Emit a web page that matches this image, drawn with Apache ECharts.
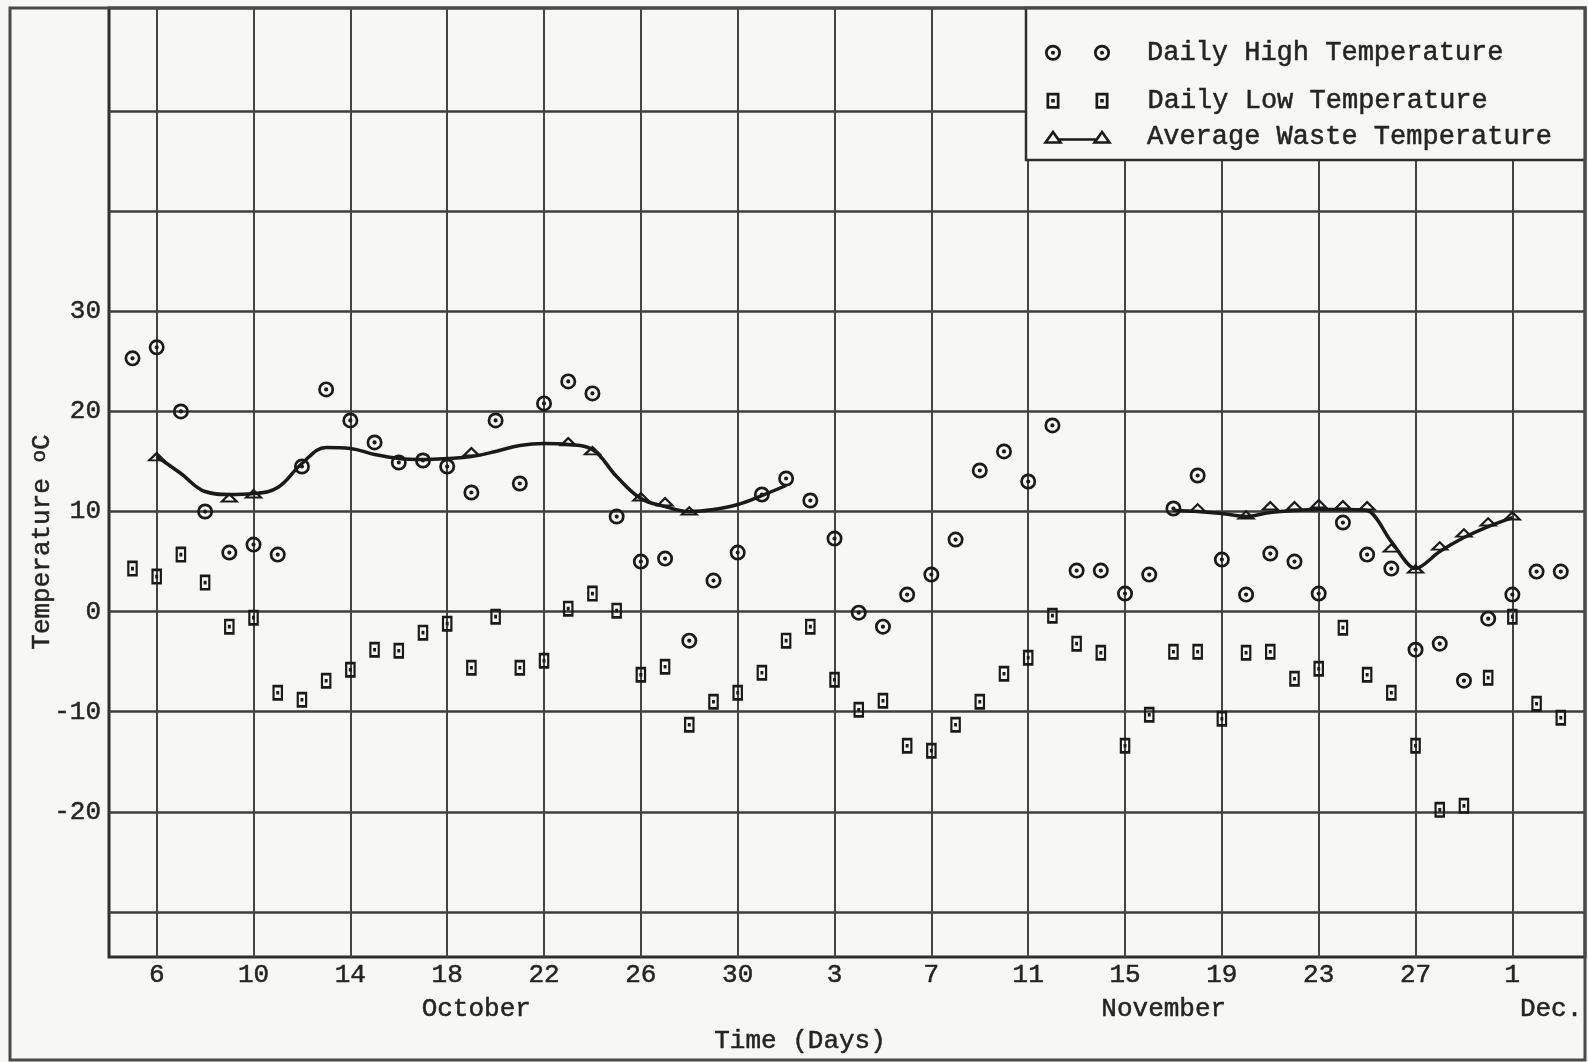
<!DOCTYPE html>
<html>
<head>
<meta charset="utf-8">
<script src="https://cdn.jsdelivr.net/npm/echarts@6/dist/echarts.min.js"></script>
<style>
html,body{margin:0;padding:0;background:#f7f7f5;}
#chart{width:1588px;height:1062px;}
</style>
</head>
<body>
<div id="chart"></div>
<script>
// ---------------- data (day index counted from Oct 1 = 1; Nov 1 = 32; Dec 1 = 62) ----------------
const obsDays = [5,6,7,8,9,10,11,12,13,14,15,16,17,18,19,20,21,22,23,24,25,26,27,28,29,30,31,32,33,34,
                 35,36,37,38,39,40,41,42,43,44,45,46,47,48,49,50,51,52,53,54,55,56,57,58,59,60,61,62,63,64];
const highTemps = [25.3,26.4,20.0,10.0,5.9,6.7,5.7,14.5,22.2,19.1,
                   16.9,14.9,15.1,14.5,11.9,19.1,12.8,20.8,23.0,21.8,
                   9.5,5.0,5.3,-2.9,3.1,5.9,11.7,13.3,11.1,7.3,
                   -0.1,-1.5,1.7,3.7,7.2,14.1,16.0,13.0,18.6,4.1,
                   4.1,1.8,3.7,10.3,13.6,5.2,1.7,5.8,5.0,1.8,
                   8.9,5.7,4.3,-3.8,-3.2,-6.9,-0.7,1.7,4.0,4.0];
const lowTemps = [4.3,3.5,5.7,2.9,-1.5,-0.6,-8.1,-8.8,-6.9,-5.8,
                  -3.8,-3.9,-2.1,-1.2,-5.6,-0.5,-5.6,-4.9,0.3,1.8,
                  0.1,-6.3,-5.5,-11.3,-9.0,-8.1,-6.1,-2.9,-1.5,-6.8,
                  -9.8,-8.9,-13.4,-13.9,-11.3,-9.0,-6.2,-4.6,-0.4,-3.2,
                  -4.1,-13.4,-10.3,-4.0,-4.0,-10.7,-4.1,-4.0,-6.7,-5.7,
                  -1.6,-6.3,-8.1,-13.4,-19.8,-19.4,-6.6,-0.5,-9.2,-10.6];

// average waste temperature: drawn curve, two segments
const wasteCurve1Days = [6,7,8,9,10,11,12,13,14,15,16,17,18,19,20,21,22,23,24,25,26,27,28,29,30,31,32];
const wasteCurve1Temps = [15.5,13.8,12.0,11.7,11.8,12.4,14.8,16.4,16.3,15.7,15.3,15.2,15.3,15.5,16.0,16.6,16.8,16.7,16.2,13.5,11.3,10.5,10.0,10.2,10.7,11.6,12.6];
const wasteCurve2Days = [48,49,50,51,52,53,54,55,56,57,58,59,60,61,62];
const wasteCurve2Temps = [10.1,10.0,9.8,9.5,9.9,10.1,10.2,10.2,10.1,7.0,4.3,6.0,7.4,8.5,9.4];
// plotted triangle readings
const wasteMarkDays = [6,9,10,19,23,24,26,27,28,49,51,52,53,54,55,56,57,58,59,60,61,62];
const wasteMarkTemps = [15.5,11.4,11.8,16.0,17.0,16.1,11.5,11.0,10.1,10.4,9.7,10.6,10.6,10.8,10.7,10.6,6.4,4.3,6.6,7.9,9.0,9.6];

// axes
const dayTicks = [6,10,14,18,22,26,30,34,38,42,46,50,54,58,62];
const dayTickLabels = ['6','10','14','18','22','26','30','3','7','11','15','19','23','27','1'];
const tempGridValues = [-30,-20,-10,0,10,20,30,40,50];
const tempTickLabels = [-20,-10,0,10,20,30];
const monthNames = ['October','November','Dec.'];
const monthLabelDays = [19.2,47.6,63.6];

const seriesNames = ['Daily High Temperature','Daily Low Temperature','Average Waste Temperature'];

// ---------------- symbols ----------------
function ring(cx, cy, ro, ri, rd) {
  const c = (r, s) => `M${cx} ${cy-r}A${r} ${r} 0 1 ${s} ${cx} ${cy+r}A${r} ${r} 0 1 ${s} ${cx} ${cy-r}Z`;
  return c(ro,1) + c(ri,0) + c(rd,1);
}
function boxDot(x, y, w, h, t, d) {
  const cx = x + w/2, cy = y + h/2;
  return `M${x} ${y}H${x+w}V${y+h}H${x}Z` +
         `M${x+t} ${y+t}V${y+h-t}H${x+w-t}V${y+t}Z` +
         `M${cx-d} ${cy-d}H${cx+d}V${cy+d}H${cx-d}Z`;
}
function tri(x0, w, h, t) {
  const sinA = Math.sin(Math.atan((w/2)/h));
  const ay = t / sinA;
  const h2 = h - t - ay;
  const w2 = w * h2 / h;
  const cx = x0 + w/2;
  return `M${x0} ${h}L${cx} 0L${x0+w} ${h}Z` +
         `M${cx-w2/2} ${h-t}L${cx+w2/2} ${h-t}L${cx} ${ay}Z`;
}
const highSymbol = 'path://' + ring(8,8,8,5.3,2.1);
const lowSymbol = 'path://' + boxDot(0,0,13,16,2.7,1.8);
const wasteSymbol = 'path://' + tri(0,20,14,2.6);
const highIcon = 'path://' + ring(8,8,8,5.3,2.1) + ring(57,8,8,5.3,2.1);
const lowIcon = 'path://' + boxDot(0,0,13,16,2.7,1.8) + boxDot(49,0,13,16,2.7,1.8);
const wasteIcon = 'path://' + tri(0,20,14,2.6) + 'M15 8.5H54V11H15Z' + tri(49,20,14,2.6);

const INK = '#1a1a1a';
const TEXT = '#242424';
const FONT = 'Liberation Mono';
const BG = '#f7f7f5';

const zip = (a, b) => a.map((v, i) => [v, b[i]]);

const chart = echarts.init(document.getElementById('chart'), null, {renderer: 'canvas'});

const baseText = {fontFamily: FONT, fontSize: 27, color: TEXT, textBorderColor: TEXT, textBorderWidth: 0.5};
const legendBase = {orient: 'horizontal', padding: 0, selectedMode: false, z: 100, itemStyle: {borderWidth: 0}};

const option = {
  backgroundColor: BG,
  animation: false,
  grid: {left: 109, right: 3, top: 8, bottom: 105, show: true, borderColor: '#2e2e2e', borderWidth: 3, backgroundColor: 'transparent'},
  xAxis: {
    type: 'value', min: 4.03, max: 65.0,
    axisLine: {show: false},
    axisTick: {show: false, customValues: dayTicks},
    splitLine: {show: true, lineStyle: {color: '#444', width: 2}},
    axisLabel: Object.assign({customValues: dayTicks, margin: 5,
      formatter: v => dayTickLabels[dayTicks.indexOf(Math.round(v))]}, baseText, {fontSize: 26})
  },
  yAxis: {
    type: 'value', min: -34.5, max: 60.3,
    axisLine: {show: false},
    axisTick: {show: false, customValues: tempGridValues},
    splitLine: {show: true, lineStyle: {color: '#3e3e3e', width: 2.5}},
    axisLabel: Object.assign({customValues: tempTickLabels, margin: 8}, baseText, {fontSize: 26})
  },
  legend: [
    Object.assign({}, legendBase, {left: 1045, top: 39, itemWidth: 65, itemHeight: 16,
      data: [{name: seriesNames[0], icon: highIcon}], textStyle: Object.assign({}, baseText, {padding: [0,0,0,32]})}),
    Object.assign({}, legendBase, {left: 1046.5, top: 87, itemWidth: 62, itemHeight: 16,
      data: [{name: seriesNames[1], icon: lowIcon}], textStyle: Object.assign({}, baseText, {padding: [0,0,0,34]})}),
    Object.assign({}, legendBase, {left: 1043, top: 123, itemWidth: 69, itemHeight: 14,
      data: [{name: seriesNames[2], icon: wasteIcon}], textStyle: Object.assign({}, baseText, {padding: [0,0,0,30]})})
  ],
  series: [
    {name: seriesNames[2], type: 'line', data: zip(wasteCurve1Days, wasteCurve1Temps), smooth: 0.4, showSymbol: false,
     lineStyle: {color: INK, width: 3.5}, itemStyle: {color: INK, borderWidth: 0}, z: 3, silent: true},
    {name: seriesNames[2], type: 'line', data: zip(wasteCurve2Days, wasteCurve2Temps), smooth: 0.3, showSymbol: false,
     lineStyle: {color: INK, width: 3.5}, itemStyle: {color: INK, borderWidth: 0}, z: 3, silent: true},
    {name: seriesNames[2], type: 'scatter', data: zip(wasteMarkDays, wasteMarkTemps), symbol: wasteSymbol, symbolSize: [20, 14],
     symbolKeepAspect: true, itemStyle: {color: INK, opacity: 1, borderWidth: 0}, z: 4, silent: true},
    {name: seriesNames[0], type: 'scatter', data: zip(obsDays, highTemps), symbol: highSymbol, symbolSize: 16,
     symbolKeepAspect: true, itemStyle: {color: INK, opacity: 1, borderWidth: 0}, z: 4, silent: true},
    {name: seriesNames[1], type: 'scatter', data: zip(obsDays, lowTemps), symbol: lowSymbol, symbolSize: [13, 16],
     symbolKeepAspect: true, itemStyle: {color: INK, opacity: 1, borderWidth: 0}, z: 4, silent: true}
  ]
};
chart.setOption(option);

// ---------------- decorations & axis titles ----------------
const monthY = 1009;
const titleFont = `26px "${FONT}"`;
const titleStyle = {font: titleFont, fill: TEXT, stroke: TEXT, lineWidth: 0.5, align: 'center', verticalAlign: 'middle'};
const graphics = [
  {type: 'rect', z: 60, shape: {x: 10, y: 8, width: 1575, height: 1052}, style: {fill: null, stroke: '#4a4a4a', lineWidth: 3}},
  {type: 'rect', z: 50, shape: {x: 1026, y: 8, width: 559, height: 152}, style: {fill: BG, stroke: '#2e2e2e', lineWidth: 2.5}},
  {type: 'text', z: 60, x: 800, y: 1041, style: Object.assign({text: 'Time (Days)'}, titleStyle)},
  {type: 'text', z: 60, x: 42, y: 542, rotation: Math.PI / 2,
   style: {text: '{t|Temperature }{s|o}{t|C}', align: 'center', verticalAlign: 'middle', fill: TEXT,
     rich: {t: {fontFamily: FONT, fontSize: 26, fill: TEXT, stroke: TEXT, lineWidth: 0.5},
            s: {fontFamily: FONT, fontSize: 21, fill: TEXT, stroke: TEXT, lineWidth: 0.5, verticalAlign: 'top'}}}}
];
monthNames.forEach((m, i) => {
  const px = chart.convertToPixel({xAxisIndex: 0}, monthLabelDays[i]);
  graphics.push({type: 'text', z: 60, x: px, y: monthY, style: Object.assign({text: m}, titleStyle)});
});
chart.setOption({graphic: graphics});
</script>
</body>
</html>
